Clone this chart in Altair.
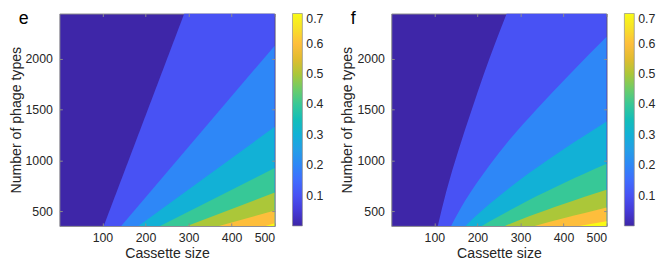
import altair as alt
import pandas as pd

FONT = "Liberation Sans"
TEXT = "#262626"
GREY = "#8c8c8c"

# contour levels (colour-bar units)
levels = [0.1, 0.2, 0.3, 0.4, 0.5, 0.6, 0.7]

# panel e: contour lines (cassette size, number of phage types)
e_x = [[103, 290], [143.6, 500], [183.4, 500], [233.8, 500], [296.6, 500], [370.7, 500], [479, 500]]
e_y = [[356, 2444], [356, 2128], [356, 1330], [356, 924], [356, 684], [356, 507], [356, 382]]

# panel f: contour lines
f_x = [
    [108, 128, 156, 187, 215, 241, 268],
    [139, 171, 226, 274, 337, 415, 500],
    [172, 210, 248, 320, 400, 500],
    [210, 248, 320, 400, 500],
    [264, 320, 400, 500],
    [333, 400, 500],
    [436, 500],
]
f_y = [
    [356, 700, 1100, 1500, 1850, 2150, 2444],
    [356, 600, 940, 1200, 1500, 1850, 2215],
    [356, 505, 640, 875, 1110, 1383],
    [356, 445, 611, 776, 966],
    [356, 450, 572, 712],
    [356, 431, 537],
    [356, 402],
]

x_domain = [0, 500]
y_domain = [356, 2444]
x_ticks = [100, 200, 300, 400, 500]
y_ticks = [500, 1000, 1500, 2000]
cbar_domain = [0, 0.7]
cbar_ticks = [0.1, 0.2, 0.3, 0.4, 0.5, 0.6, 0.7]

# parula colormap stops
parula = ["#3e26a8", "#4332cb", "#4741e5", "#4852f4", "#4563fd", "#3875fe", "#2e87f7",
          "#2796eb", "#20a5e3", "#12b1d6", "#02bac3", "#24c1ae", "#37c897", "#57cc7a",
          "#81cc59", "#abc739", "#d1bf27", "#f0ba36", "#febe3c", "#fad62d", "#f5e924",
          "#f9fb15"]

PLOT = 215

xscale = alt.Scale(domain=x_domain, nice=False, zero=False)
yscale = alt.Scale(domain=y_domain, nice=False, zero=False)
tick_style = dict(ticks=True, tickSize=3, offset=-3, tickColor=GREY, tickWidth=1,
                  zindex=1, domain=False, grid=False)


def table(xs, ys):
    rows = []
    for lev, xl, yl in zip(levels, xs, ys):
        for xv, yv in zip(xl, yl):
            rows.append({"level": lev, "x": xv, "y": yv})
    return pd.DataFrame(rows)


def panel(df, label):
    filled = alt.Chart(df).mark_area(orient="horizontal", clip=True, strokeWidth=0,
                                     interpolate="monotone").encode(
        y=alt.Y("y:Q", scale=yscale,
                axis=alt.Axis(values=y_ticks, format="d", title="Number of phage types",
                              labelPadding=7, titlePadding=2, **tick_style)),
        x=alt.X("x:Q", stack=False, scale=xscale,
                axis=alt.Axis(values=x_ticks, format="d", title="Cassette size",
                              labelPadding=6, titlePadding=3, **tick_style)),
        x2=alt.datum(x_domain[1]),
        color=alt.Color("level:Q",
                        scale=alt.Scale(domain=cbar_domain, range=parula, interpolate="rgb"),
                        legend=alt.Legend(title=None, values=cbar_ticks, format=".1f",
                                          direction="vertical", orient="right",
                                          gradientLength=PLOT, gradientThickness=10,
                                          offset=17, padding=0, labelOffset=4,
                                          labelOverlap=False, labelBaseline="middle",
                                          gradientStrokeColor=GREY,
                                          gradientStrokeWidth=0.7,
                                          labelFontSize=12.5, labelColor=TEXT,
                                          labelFont=FONT)),
        detail="level:N",
    )
    # box ticks on the top and right edges (MATLAB style)
    box = alt.Chart(df).mark_point(opacity=0, size=1).encode(
        y=alt.Y("y:Q", scale=yscale,
                axis=alt.Axis(values=y_ticks, orient="right", labels=False, title=None,
                              **tick_style)),
        x=alt.X("x:Q", scale=xscale,
                axis=alt.Axis(values=x_ticks, orient="top", labels=False, title=None,
                              **tick_style)),
    )
    return alt.layer(filled, box).resolve_axis(x="independent", y="independent").properties(
        width=218, height=PLOT,
        title=alt.TitleParams(text=label, anchor="start", frame="group", fontSize=18,
                              fontWeight="normal", font=FONT, color="black",
                              dx=-41, dy=15, offset=0),
    )


chart = alt.hconcat(
    panel(table(e_x, e_y), "e"),
    panel(table(f_x, f_y), "f"),
    spacing=15,
).resolve_legend(color="independent").properties(
    padding={"left": 0, "top": 0, "right": 0, "bottom": 0}
).configure_view(
    fill=parula[0], stroke=GREY, strokeWidth=1
).configure_axis(
    labelFont=FONT, titleFont=FONT, labelFontSize=12.5, titleFontSize=14.3,
    labelColor=TEXT, titleColor=TEXT, titleFontWeight="normal",
).configure_legend(labelFont=FONT)

chart.save("out.html", embed_options={"renderer": "svg", "actions": False})
